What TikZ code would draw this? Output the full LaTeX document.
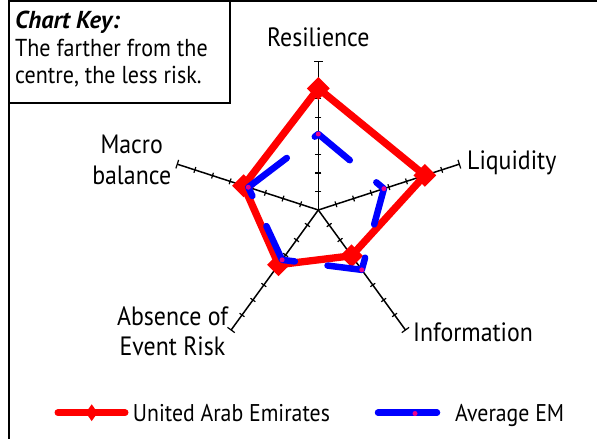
\documentclass[tikz,border=0pt]{standalone}
\usepackage{fontspec}
\setmainfont[FakeStretch=0.9]{PT Sans}
\newfontfamily\keyfont{PT Sans}
\usetikzlibrary{shapes.geometric,calc}
\begin{document}
\begin{tikzpicture}[x=1pt,y=-1pt,
  lbl/.style={font=\fontsize{26.5}{31}\selectfont, inner sep=0pt, text=black},
  keytxt/.style={font=\fontsize{24.5}{28}\selectfont, inner sep=0pt, text=black},
  legtxt/.style={font=\fontsize{24.2}{28}\selectfont, inner sep=0pt, text=black},
  framel/.style={line width=2pt, black},
  axisline/.style={line width=1.5pt, black},
  tickmark/.style={line width=1.2pt, black},
  uae/.style={red, line width=7.3pt, line join=round},
  uaemark/.style={diamond, fill=red, minimum size=23pt, inner sep=0pt, aspect=1},
  em/.style={blue, line width=6.5pt, line cap=round, line join=round},
  emdot/.style={circle, fill=magenta, minimum size=5pt, inner sep=0pt},
]
\useasboundingbox (0,0) rectangle (597,439);
% frame and key box
\draw[framel] (8.5,439) -- (8.5,1) -- (597,1);
\draw[framel] (8.5,1) rectangle (229.5,103);
\node[keytxt, anchor=base west, font=\fontsize{24.5}{28}\keyfont\bfseries\itshape] (key1) at (15,28.3) {Chart Key:};
\node[keytxt, anchor=base west] (key2) at (15,56) {The farther from the};
\node[keytxt, anchor=base west] (key3) at (15,83.3) {centre, the less risk.};

% axis labels
\node[lbl, anchor=base] (lres) at (318.3,46.7) {Resilience};
\node[lbl, anchor=base west] (lliq) at (467,169) {Liquidity};
\node[lbl, anchor=base west] (linf) at (413,341.7) {Information};
\node[lbl, anchor=base] (labs1) at (172.5,325) {Absence of};
\node[lbl, anchor=base] (labs2) at (172.5,355) {Event Risk};
\node[lbl, anchor=base] (lmac1) at (131.7,153.3) {Macro};
\node[lbl, anchor=base] (lmac2) at (131.7,184.3) {balance};

% radar
\begin{scope}[shift={(318.3pt,-210pt)}, x=1pt, y=1pt]
  \foreach \a in {90,18,-54,-126,162} {
    \begin{scope}[rotate=\a]
      \draw[axisline] (0,0) -- (148.3,0);
      \foreach \k in {1,...,7} \draw[tickmark] (\k*18.54,-3) -- (\k*18.54,3);
      \draw[tickmark] (148.3,-4.5) -- (148.3,4.5);
    \end{scope}
  }
  % UAE
  \coordinate (u1) at (90:121.6);
  \coordinate (u2) at (18:112);
  \coordinate (u3) at (-54:56.6);
  \coordinate (u4) at (-126:67.6);
  \coordinate (u5) at (162:78.5);
  \draw[uae] (u1) -- (u2) -- (u3) -- (u4) -- (u5) -- cycle;
  \foreach \i in {1,...,5} \node[uaemark] (um\i) at (u\i) {};
  % Average EM
  \coordinate (e1) at (90:76);
  \coordinate (e2) at (18:69);
  \coordinate (e3) at (-54:74);
  \coordinate (e4) at (-126:61.6);
  \coordinate (e5) at (162:73.6);
  \draw[em] ($(e5)!0.95!(e1)$) -- (e1) -- ($(e1)!0.48!(e2)$);
  \draw[em] ($(e1)!0.884!(e2)$) -- (e2) -- ($(e2)!0.44!(e3)$);
  \draw[em] ($(e2)!0.85!(e3)$) -- (e3) -- ($(e3)!0.43!(e4)$);
  \draw[em] ($(e3)!0.84!(e4)$) -- (e4) -- ($(e4)!0.465!(e5)$);
  \draw[em] ($(e4)!0.88!(e5)$) -- (e5) -- ($(e5)!0.55!(e1)$);
  \foreach \i in {1,...,5} \node[emdot] (ed\i) at (e\i) {};
\end{scope}

% legend
\coordinate (lg1a) at (58,412.7);
\coordinate (lg1b) at (125,412.7);
\draw[red, line width=7pt, line cap=round] (lg1a) -- (lg1b);
\node[diamond, fill=red, minimum width=12pt, minimum height=17pt, inner sep=0pt] (lgm1) at (91.7,412.7) {};
\node[legtxt, anchor=base west] (lgt1) at (132.7,421.7) {United Arab Emirates};
\coordinate (lg2a) at (378,412.7);
\coordinate (lg2b) at (437,412.7);
\draw[blue, line width=6.5pt, line cap=round] (lg2a) -- (lg2b);
\node[emdot] (lgm2) at (415,413.5) {};
\node[legtxt, anchor=base west] (lgt2) at (455,421.7) {Average EM};
\end{tikzpicture}
\end{document}
